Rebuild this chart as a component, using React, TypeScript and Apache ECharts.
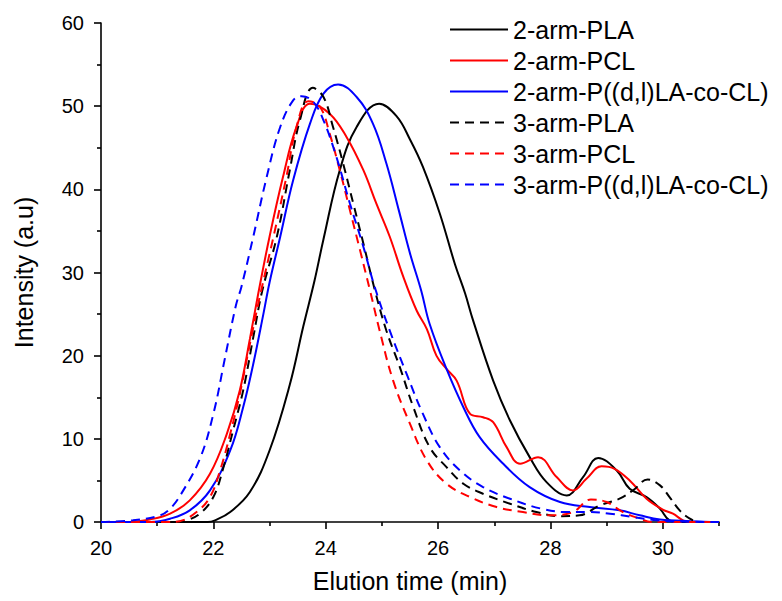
import React, { useEffect, useRef } from "react";
import * as echarts from "echarts";

const seriesNames = [
  "2-arm-PLA",
  "2-arm-PCL",
  "2-arm-P((d,l)LA-co-CL)",
  "3-arm-PLA",
  "3-arm-PCL",
  "3-arm-P((d,l)LA-co-CL)",
];

const seriesColors = ["#000000", "#ff0000", "#0000ff", "#000000", "#ff0000", "#0000ff"];
const seriesDashed = [false, false, false, true, true, true];

const pla2 = [
  [20, 0], [21, 0], [21.9, 0], [22.03, 0.2], [22.3, 1.2], [22.65, 3.6], [23.0, 8.6], [23.36, 16.5],
  [23.6, 23.5], [23.8, 29], [23.96, 34], [24.25, 42.3], [24.55, 47.5], [24.95, 50.3], [25.26, 48.8],
  [25.5, 46], [25.73, 42.7], [26.03, 37.1], [26.3, 31.0], [26.48, 27.5], [26.62, 24.3], [26.98, 17.0],
  [27.28, 12.2], [27.63, 7.8], [27.93, 4.8], [28.29, 3.2], [28.58, 5.4], [28.85, 7.7], [29.18, 6.2],
  [29.41, 4.0], [29.71, 3.0], [29.95, 1.6], [30.12, 0.2], [30.3, 0], [31, 0],
];

const pcl2 = [
  [20, 0], [20.5, 0], [20.87, 0.3], [21.23, 1.0], [21.58, 2.6], [21.94, 5.8], [22.24, 10.6], [22.47, 15.8],
  [22.65, 22.0], [22.8, 27.5], [23.0, 34.3], [23.24, 41.5], [23.48, 47.5], [23.72, 50.3], [24.07, 49.1],
  [24.37, 46.3], [24.67, 42.3], [24.9, 38.3], [25.14, 34.3], [25.38, 29.5], [25.62, 25.4], [25.8, 23.2],
  [25.97, 20.0], [26.15, 18.4], [26.33, 17.0], [26.57, 13.0], [26.8, 12.6], [26.98, 12.0], [27.22, 9.0],
  [27.46, 7.0], [27.78, 7.8], [28.11, 5.4], [28.4, 3.8], [28.64, 5.2], [28.91, 6.7], [29.14, 6.4],
  [29.41, 5.0], [29.71, 2.8], [30.0, 1.5], [30.18, 1.0], [30.36, 0.2], [30.5, 0], [31, 0],
];

const cocl2 = [
  [20, 0], [20.87, 0], [21.23, 0.4], [21.58, 1.4], [21.94, 3.8], [22.3, 8.6], [22.53, 13.8], [22.71, 19.0],
  [22.89, 25.0], [23.0, 28.8], [23.19, 34.3], [23.42, 41.1], [23.72, 47.9], [23.96, 51.5], [24.22, 52.6],
  [24.55, 51.1], [24.84, 47.9], [25.08, 43.1], [25.3, 37.5], [25.5, 32.3], [25.7, 27.8], [25.85, 23.8],
  [26.15, 18.4], [26.45, 13.8], [26.74, 10.2], [27.16, 7.0], [27.63, 4.2], [28.17, 2.4], [28.7, 1.8],
  [29.23, 1.4], [29.59, 0.8], [29.95, 0.3], [30.5, 0.1], [31, 0],
];

const pla3 = [
  [20, 0], [21.3, 0], [21.52, 0.2], [21.76, 1.0], [22.0, 3.0], [22.18, 6.6], [22.35, 11.0], [22.53, 15.8],
  [22.71, 22.2], [22.87, 27.8], [23.13, 34.3], [23.36, 42.3], [23.54, 48.3], [23.77, 52.2], [23.96, 51.1],
  [24.13, 47.5], [24.31, 43.1], [24.49, 38.3], [24.67, 33.5], [24.87, 28.0], [25.08, 23.0], [25.32, 18.6],
  [25.56, 13.8], [25.85, 9.0], [26.15, 6.6], [26.45, 4.6], [26.8, 3.4], [27.28, 2.2], [27.75, 1.2],
  [28.17, 0.7], [28.52, 0.8], [28.88, 2.0], [29.23, 2.8], [29.47, 3.8], [29.73, 5.1], [29.95, 4.4],
  [30.12, 3.0], [30.3, 1.4], [30.48, 0.4], [30.65, 0], [31, 0],
];

const pcl3 = [
  [20, 0], [21.2, 0], [21.4, 0.1], [21.7, 1.2], [21.94, 3.0], [22.12, 6.2], [22.3, 10.6], [22.47, 15.4],
  [22.65, 21.4], [22.83, 27.2], [23.07, 34.3], [23.3, 41.5], [23.48, 47.5], [23.69, 50.6], [23.9, 49.9],
  [24.07, 46.7], [24.25, 42.3], [24.43, 37.5], [24.61, 32.7], [24.8, 27.5], [24.96, 23.0], [25.2, 17.0],
  [25.5, 11.8], [25.8, 7.4], [26.15, 4.6], [26.57, 3.0], [27.04, 1.8], [27.51, 1.2], [27.99, 0.8],
  [28.4, 1.2], [28.72, 2.7], [29.0, 2.4], [29.29, 1.2], [29.59, 0.4], [29.8, 0], [31, 0],
];

const cocl3 = [
  [20, 0], [20.57, 0.2], [21.05, 0.8], [21.23, 1.6], [21.42, 3.3], [21.76, 7.6], [22.0, 13.0], [22.2, 19.5],
  [22.4, 26.0], [22.5, 28.3], [22.71, 34.3], [22.95, 41.5], [23.19, 47.5], [23.42, 50.7], [23.57, 51.2],
  [23.78, 50.5], [23.96, 48.3], [24.19, 43.9], [24.43, 38.3], [24.67, 33.1], [24.87, 28.3], [25.14, 23.0],
  [25.44, 17.8], [25.73, 13.0], [26.03, 9.0], [26.39, 6.2], [26.8, 4.2], [27.28, 2.8], [27.84, 1.6],
  [28.29, 1.2], [28.7, 1.2], [29.06, 1.0], [29.47, 0.6], [29.89, 0.2], [30.3, 0.05], [31, 0],
];

const seriesData = [pla2, pcl2, cocl2, pla3, pcl3, cocl3];

const xMajorTicks = [20, 22, 24, 26, 28, 30];
const xMinorTicks = [21, 23, 25, 27, 29, 31];
const xTitle = "Elution time (min)";
const yTitle = "Intensity (a.u)";

const FONT = 'Arial, "Liberation Sans", Helvetica, sans-serif';

export default function App() {
  const ref = useRef<HTMLDivElement>(null);

  useEffect(() => {
    if (!ref.current) return;
    const chart = echarts.init(ref.current, undefined, { renderer: "svg" });

    const axisLineStyle = { color: "#000", width: 1.6 };

    chart.setOption({
      animation: false,
      backgroundColor: "#ffffff",
      textStyle: { fontFamily: FONT },
      grid: { left: 101, right: 63, top: 23, bottom: 79 },
      legend: {
        orient: "vertical",
        left: 449,
        top: 17,
        padding: 0,
        itemWidth: 58,
        itemHeight: 14,
        itemGap: 6,
        itemStyle: { opacity: 0 },
        textStyle: { fontSize: 25, color: "#000", fontFamily: FONT, padding: [0, 0, 0, 0] },
        data: seriesNames,
      },
      xAxis: [
        {
          type: "value",
          min: 20,
          max: 31,
          interval: 2,
          position: "bottom",
          name: xTitle,
          nameLocation: "middle",
          nameGap: 46,
          nameTextStyle: { fontSize: 25, color: "#000", fontFamily: FONT },
          axisLine: { show: true, onZero: false, lineStyle: axisLineStyle },
          axisTick: { show: true, length: 7, customValues: xMajorTicks, lineStyle: axisLineStyle },
          axisLabel: { show: true, customValues: xMajorTicks, margin: 16, fontSize: 20, color: "#000", fontFamily: FONT },
          splitLine: { show: false },
        },
        {
          type: "value",
          min: 20,
          max: 31,
          interval: 1,
          position: "bottom",
          axisLine: { show: false },
          axisTick: { show: true, length: 4, customValues: xMinorTicks, lineStyle: axisLineStyle },
          axisLabel: { show: false },
          splitLine: { show: false },
        },
      ],
      yAxis: {
        type: "value",
        min: 0,
        max: 60,
        interval: 10,
        name: yTitle,
        nameLocation: "middle",
        nameGap: 65,
        nameTextStyle: { fontSize: 25, color: "#000", fontFamily: FONT },
        axisLine: { show: true, lineStyle: axisLineStyle },
        axisTick: { show: true, length: 7, lineStyle: axisLineStyle },
        minorTick: { show: true, splitNumber: 2, length: 4, lineStyle: axisLineStyle },
        axisLabel: { margin: 17, fontSize: 20, color: "#000", fontFamily: FONT },
        splitLine: { show: false },
      },
      series: seriesNames.map((name, i) => ({
        name,
        type: "line",
        xAxisIndex: 0,
        data: seriesData[i],
        smooth: 0.4,
        symbol: "none",
        showSymbol: false,
        lineStyle: {
          color: seriesColors[i],
          width: 2,
          type: seriesDashed[i] ? [9, 6] : "solid",
        },
        itemStyle: { color: seriesColors[i] },
        z: seriesDashed[i] ? 3 : 2,
      })),
    });

    return () => chart.dispose();
  }, []);

  return (
    <div
      ref={ref}
      style={{ position: "fixed", left: 0, top: 0, width: 782, height: 601, background: "#fff" }}
    />
  );
}
